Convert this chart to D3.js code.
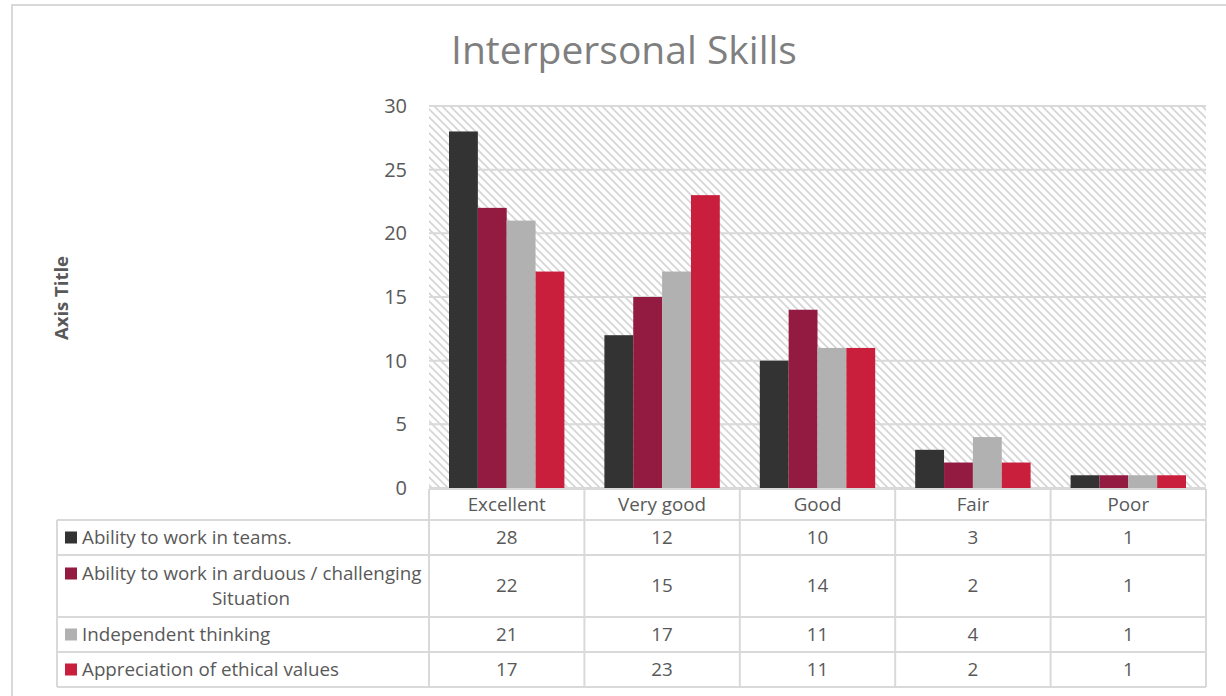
<!DOCTYPE html>
<html><head><meta charset="utf-8">
<script src="https://cdn.jsdelivr.net/npm/d3@7"></script>
<style>body{margin:0;background:#fff;} svg{display:block;}</style>
</head><body>
<svg id="c" width="1226" height="696"></svg>
<script>
const categories = ["Excellent","Very good","Good","Fair","Poor"];
const seriesNames = ["Ability to work in teams.","Ability to work in arduous / challenging Situation","Independent thinking","Appreciation of ethical values"];
const seriesLabelLines = [["Ability to work in teams."],["Ability to work in arduous / challenging","Situation"],["Independent thinking"],["Appreciation of ethical values"]];
const teams = [28,12,10,3,1];
const arduous = [22,15,14,2,1];
const independent = [21,17,11,4,1];
const ethical = [17,23,11,2,1];
const yTicks = [0,5,10,15,20,25,30];
const colors = ["#333333","#931a40","#b1b1b1","#c91f3d"];
const seriesValues = [teams, arduous, independent, ethical];

const font = "'Open Sans', sans-serif";
const svg = d3.select("#c");
const textCol = "#595959";

// outer border
svg.append("rect").attr("x",12).attr("y",5).attr("width",1230).attr("height",700)
  .attr("fill","#fff").attr("stroke","#d9d9d9").attr("stroke-width",2);

// hatch pattern
const defs = svg.append("defs");
const pat = defs.append("pattern").attr("id","hatch").attr("patternUnits","userSpaceOnUse")
  .attr("width",8).attr("height",8);
pat.append("path").attr("d","M-1,-1 L9,9 M-1,7 L1,9 M7,-1 L9,1")
  .attr("stroke","#d6d6d6").attr("stroke-width",1.8);

const L=429, R=1206, T=106, B=488;
const x0 = d3.scaleBand().domain(categories).range([L,R]).padding(0);
const x1 = d3.scaleBand().domain(d3.range(4)).range([20, x0.bandwidth()-20]).padding(0);
const y = d3.scaleLinear().domain([0,30]).range([B,T]);

svg.append("rect").attr("x",L).attr("y",T).attr("width",R-L).attr("height",B-T).attr("fill","url(#hatch)");

// gridlines
svg.append("g").selectAll("line").data(yTicks).join("line")
  .attr("x1",L).attr("x2",R).attr("y1",d=>y(d)).attr("y2",d=>y(d))
  .attr("stroke","#d9d9d9").attr("stroke-width",2);

// y axis labels
const yAxis = d3.axisLeft(y).tickValues(yTicks).tickSize(0).tickPadding(22);
const ya = svg.append("g").attr("transform",`translate(${L},0)`).call(yAxis);
ya.select(".domain").remove();
ya.selectAll("text").attr("font-family",font).attr("font-size",20).attr("fill",textCol);

// bars
const g = svg.append("g");
seriesValues.forEach((vals,si)=>{
  g.selectAll(null).data(vals).join("rect")
    .attr("x",(d,i)=>x0(categories[i])+x1(si))
    .attr("width",x1.bandwidth())
    .attr("y",d=>y(d)).attr("height",d=>B-y(d))
    .attr("fill",colors[si]);
});

// title
svg.append("text").attr("x",624).attr("y",64).attr("text-anchor","middle")
  .attr("font-family",font).attr("font-size",39).attr("fill","#7f7f7f").text("Interpersonal Skills");

// axis title
svg.append("text").attr("transform","translate(68,298) rotate(-90)").attr("text-anchor","middle")
  .attr("font-family",font).attr("font-size",18.5).attr("font-weight","bold").attr("fill",textCol).text("Axis Title");

// data table
const rowTops = [489,520,555,617,652,687];
const leftX = 57;
const lineCol = "#d9d9d9";
const fs = 18.8;
const tg = svg.append("g");
categories.forEach((c,i)=>{
  tg.append("text").attr("x",x0(c)+x0.bandwidth()/2).attr("y",(rowTops[0]+rowTops[1])/2+6)
    .attr("text-anchor","middle").attr("font-family",font).attr("font-size",fs).attr("fill",textCol).text(c);
});
tg.append("line").attr("x1",L).attr("x2",R).attr("y1",rowTops[0]).attr("y2",rowTops[0]).attr("stroke",lineCol).attr("stroke-width",2);
rowTops.slice(1).forEach(yy=>{
  tg.append("line").attr("x1",leftX).attr("x2",R).attr("y1",yy).attr("y2",yy).attr("stroke",lineCol).attr("stroke-width",2);
});
tg.append("line").attr("x1",leftX).attr("x2",leftX).attr("y1",rowTops[1]).attr("y2",rowTops[5]).attr("stroke",lineCol).attr("stroke-width",2);
categories.forEach(c=>{
  tg.append("line").attr("x1",x0(c)).attr("x2",x0(c)).attr("y1",rowTops[0]).attr("y2",rowTops[5]).attr("stroke",lineCol).attr("stroke-width",2);
});
tg.append("line").attr("x1",R).attr("x2",R).attr("y1",rowTops[0]).attr("y2",rowTops[5]).attr("stroke",lineCol).attr("stroke-width",2);

seriesValues.forEach((vals,si)=>{
  const top=rowTops[si+1], bot=rowTops[si+2], mid=(top+bot)/2;
  const lines = seriesLabelLines[si];
  const lh = 25;
  const firstY = mid - (lines.length-1)*lh/2;
  tg.append("rect").attr("x",65).attr("y",firstY-6).attr("width",12).attr("height",12).attr("fill",colors[si]);
  lines.forEach((ln,li)=>{
    if(li===0){
      tg.append("text").attr("x",82).attr("y",firstY+6).attr("font-family",font).attr("font-size",fs).attr("fill",textCol).text(ln);
    } else {
      tg.append("text").attr("x",(leftX+L)/2+8).attr("y",firstY+li*lh+6).attr("text-anchor","middle").attr("font-family",font).attr("font-size",fs).attr("fill",textCol).text(ln);
    }
  });
  vals.forEach((v,i)=>{
    tg.append("text").attr("x",x0(categories[i])+x0.bandwidth()/2).attr("y",mid+6)
      .attr("text-anchor","middle").attr("font-family",font).attr("font-size",fs).attr("fill",textCol).text(v);
  });
});
</script>
</body></html>
